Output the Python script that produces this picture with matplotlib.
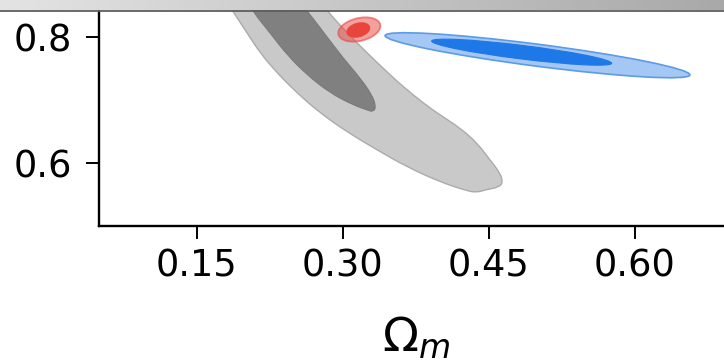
import numpy as np
import matplotlib
matplotlib.use("Agg")
import matplotlib.pyplot as plt
from matplotlib.path import Path
from matplotlib.patches import PathPatch, Ellipse
from matplotlib.transforms import Affine2D

# broad constraint (gray): outline of the 2-sigma and 1-sigma regions
gray_outer_om = [0.1741, 0.1875, 0.2018, 0.2152, 0.2326, 0.2531, 0.2767, 0.3045,
                 0.3352, 0.3660, 0.3999, 0.4276, 0.4379, 0.4481, 0.4594, 0.4646,
                 0.4615, 0.4512, 0.4379, 0.4204, 0.3999, 0.3824, 0.3588, 0.3455,
                 0.3250, 0.3045, 0.2850, 0.2665]
gray_outer_s8 = [0.8741, 0.8392, 0.8059, 0.7741, 0.7424, 0.7106, 0.6789, 0.6487,
                 0.6202, 0.5932, 0.5694, 0.5551, 0.5527, 0.5575, 0.5606, 0.5678,
                 0.5837, 0.6043, 0.6313, 0.6551, 0.6757, 0.6948, 0.7249, 0.7440,
                 0.7741, 0.8059, 0.8392, 0.8741]
gray_inner_om = [0.1946, 0.2080, 0.2254, 0.2429, 0.2634, 0.2870, 0.3106, 0.3250,
                 0.3311, 0.3342, 0.3301, 0.3178, 0.3003, 0.2839, 0.2644, 0.2460]
gray_inner_s8 = [0.8741, 0.8392, 0.8059, 0.7710, 0.7392, 0.7106, 0.6916, 0.6837,
                 0.6805, 0.6884, 0.7075, 0.7344, 0.7662, 0.7995, 0.8392, 0.8741]

# elliptical constraints: centre, major half-axis, minor half-axis (Omega_m, sigma_8)
red_outer = [(0.3170, 0.8114), (0.02145, 0.00794), (0.00273, -0.01759)]
red_inner = [(0.3160, 0.8106), (0.01170, 0.00484), (0.00183, -0.01054)]
blue_outer = [(0.5000, 0.7705), (0.15650, -0.03127), (-0.00145, -0.01730)]
blue_inner = [(0.4837, 0.7754), (0.09236, -0.01770), (-0.00086, -0.01071)]

xticks = [0.15, 0.30, 0.45, 0.60]
yticks = [0.6, 0.8]

W, H = 724, 361
fig = plt.figure(figsize=(W / 100, H / 100), dpi=100)
ax = fig.add_axes([99.3 / W, (H - 225.6) / H, 633.0 / W, 251.9 / H])


def smooth_patch(om, s8, **kw):
    pts = np.column_stack([om, s8])
    mids = (pts + np.roll(pts, -1, axis=0)) / 2
    verts = [mids[-1]]
    codes = [Path.MOVETO]
    for p, m in zip(pts, mids):
        verts += [p, m]
        codes += [Path.CURVE3, Path.CURVE3]
    return PathPatch(Path(verts, codes), **kw)


def ellipse_patch(spec, **kw):
    c, u, v = spec
    m = Affine2D(np.array([[u[0], v[0], c[0]],
                           [u[1], v[1], c[1]],
                           [0, 0, 1]]))
    return Ellipse((0, 0), 2, 2, transform=m + ax.transData, **kw)


ax.add_patch(smooth_patch(gray_outer_om, gray_outer_s8, facecolor="#c9c9c9",
                          edgecolor="#ababab", lw=1.0, zorder=1))
ax.add_patch(smooth_patch(gray_inner_om, gray_inner_s8, facecolor="#808080",
                          edgecolor="#7a7a7a", lw=0.8, zorder=2))

ax.add_patch(ellipse_patch(blue_outer, facecolor="#a5c7f3", edgecolor="#5b9be8",
                           lw=1.2, zorder=3))
ax.add_patch(ellipse_patch(blue_inner, facecolor="#1f78e7", edgecolor="#1f78e7",
                           lw=0.8, zorder=4))

ax.add_patch(ellipse_patch(red_outer, facecolor=(0.91, 0.27, 0.24, 0.5),
                           edgecolor=(0.91, 0.27, 0.24, 0.6), lw=1.3, zorder=5))
ax.add_patch(ellipse_patch(red_inner, facecolor="#e8463d", edgecolor="#e8463d",
                           lw=0.6, zorder=6))

ax.set_xlim(0.05, 0.7)
ax.set_ylim(0.5, 0.9)
ax.set_xticks(xticks)
ax.set_xticklabels(["%.2f" % t for t in xticks])
ax.set_yticks(yticks)
ax.set_yticklabels(["%.1f" % t for t in yticks])
ax.spines["top"].set_visible(False)
ax.spines["right"].set_visible(False)
for s in ("left", "bottom"):
    ax.spines[s].set_linewidth(1.7)
ax.tick_params(axis="both", labelsize=26.5, length=9.5, width=1.4, direction="out")
ax.tick_params(axis="x", pad=6.5)
ax.tick_params(axis="y", pad=10)
ax.set_xlabel(r"$\Omega_m$", fontsize=34, labelpad=22)

# shaded strip along the top edge
bar = fig.add_axes([0, 1 - 10.5 / H, 1, 10.5 / H])
bar.imshow(np.linspace(0.89, 0.66, 256)[None, :], cmap="gray", vmin=0, vmax=1,
           aspect="auto", extent=[0, 1, 0, 1])
bar.set_axis_off()
fig.add_artist(plt.Line2D([0, 1], [1 - 11 / H, 1 - 11 / H], color="#5e5e5e",
                          lw=1.3, transform=fig.transFigure))

fig.savefig("out.png", dpi=100)
